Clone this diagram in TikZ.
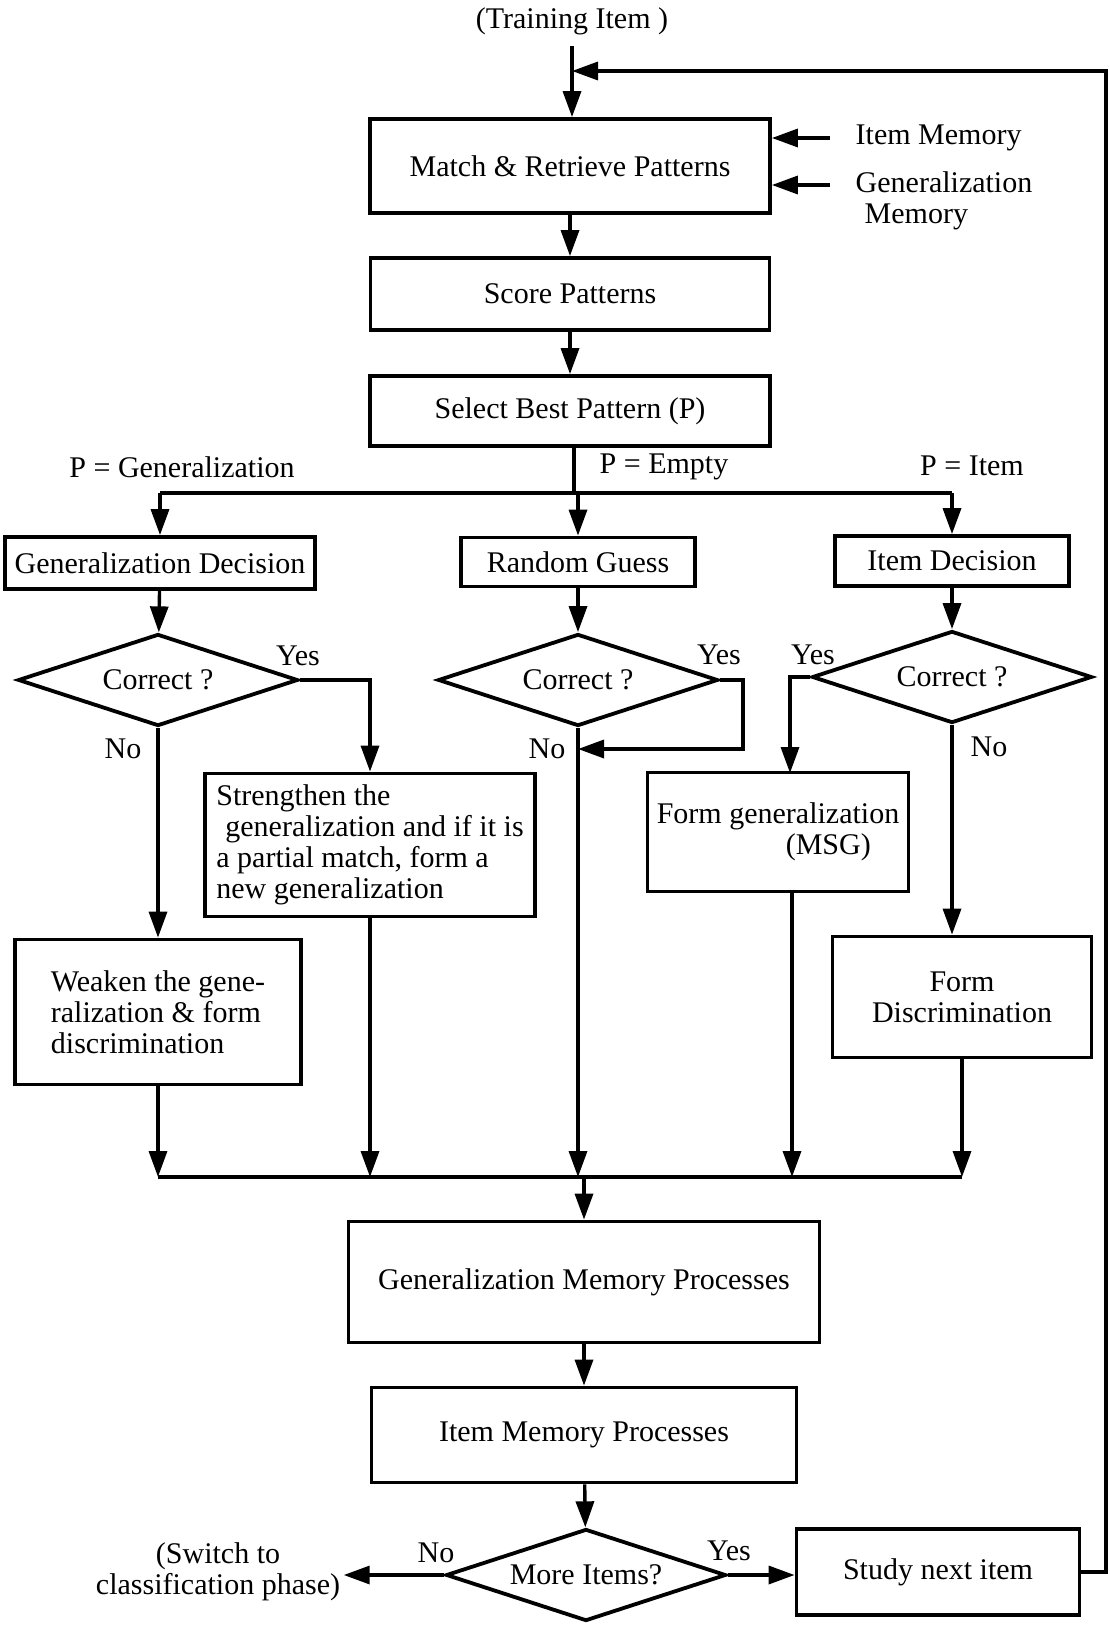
\documentclass[tikz,border=0pt]{standalone}
\usepackage{fontspec}
\setmainfont{Liberation Serif}
\usetikzlibrary{shapes.geometric,arrows.meta}

\begin{document}
\begin{tikzpicture}[x=1pt, y=-1pt, line width=3.4pt, >={Triangle[length=26pt,width=18pt]},
    every node/.style={font=\fontsize{30}{31}\selectfont, inner sep=2pt},
    box/.style={draw, line width=3.8pt, rectangle, align=center},
    test/.style={draw, line width=3.8pt, diamond, aspect=3, inner sep=0pt, minimum width=280, minimum height=92}]
\useasboundingbox (0,0) rectangle (1109,1627);
    % main column
    \node (train) at (572,21) {(Training Item )};
    \node[box, minimum width=400, minimum height=94] (match) at (570,166) {Match \& Retrieve Patterns};
    \node[box, minimum width=399, minimum height=72] (score) at (570,294) {Score Patterns};
    \node[box, minimum width=400, minimum height=70] (select) at (570,411) {Select Best Pattern (P)};
    \node[anchor=west] (itemmem) at (852,138) {Item Memory};
    \node[anchor=north west, align=left] (genmem) at (852,168) {Generalization\\\hspace*{0.3em}Memory};
    % three cases
    \node (pgen) at (182,467) {P = Generalization};
    \node (pemp) at (664,467) {P = Empty};
    \node (pitem) at (972,466) {P = Item};
    \node[box, minimum width=310, minimum height=52] (gendec) at (160,563) {Generalization Decision};
    \node[box, minimum width=234, minimum height=49] (random) at (578,562) {Random Guess};
    \node[box, minimum width=234, minimum height=50] (itemdec) at (952,561) {Item Decision};
    \node[test] (d1) at (158,680) {Correct ?};
    \node[test] (d2) at (578,680) {Correct ?};
    \node[test] (d3) at (952,677) {Correct ?};
    \node (y1) at (298,656) {Yes};
    \node (n1) at (123,749) {No};
    \node (y2) at (719,655) {Yes};
    \node (n2) at (547,749) {No};
    \node (y3) at (813,655) {Yes};
    \node (n3) at (989,747) {No};
    \node[box, minimum width=330, minimum height=143, align=left] (strength) at (370,845) {Strengthen the\\\hspace*{0.3em}generalization and if it is\\a partial match, form a\\new generalization};
    \node[box, minimum width=261, minimum height=119, align=left] (formgen) at (778,832) {Form generalization\\\hspace*{4.3em}(MSG)};
    \node[box, minimum width=286, minimum height=145, align=left] (weaken) at (158,1012) {Weaken the gene-\\ralization \& form\\discrimination};
    \node[box, minimum width=259, minimum height=121] (formdisc) at (962,997) {Form\\Discrimination};
    % memory processes
    \node[box, minimum width=471, minimum height=121] (gmp) at (584,1282) {Generalization Memory Processes};
    \node[box, minimum width=425, minimum height=95] (imp) at (584,1435) {Item Memory Processes};
    \node[test] (more) at (586,1575) {More Items?};
    \node[box, minimum width=283, minimum height=86] (study) at (938,1572) {Study next item};
    \node[align=center] (switch) at (218,1572) {(Switch to\\classification phase)};
    \node (n4) at (436,1553) {No};
    \node (y4) at (729,1551) {Yes};
    \coordinate (brn) at (574,493);
    \coordinate (mrg) at (584,1177);
    \coordinate (rgy) at (743,749);
    \coordinate (fb) at (1106,71);
    \coordinate (im) at (830,138);
    \coordinate (gm) at (830,185);
    \coordinate (fgt) at (790,773);
    \coordinate (fgb) at (792,892);
    % connectors
    \draw[->, shorten <=8pt] (train.south) -- (train.south |- match.north);
    \foreach \from/\to in {match/score, score/select, gendec/d1, random/d2, itemdec/d3, d1/weaken, gmp/imp, imp/more}
        \draw[->] (\from) -- (\to);
    \draw[->] (more.east) -- (more.east -| study.west);
    \draw[->] (more.west) -- (more.west -| switch.east);
    \draw[->] (im) -- (im -| match.east);
    \draw[->] (gm) -- (gm -| match.east);
    \draw (select.south -| brn) -- (brn);
    \draw (gendec.north |- brn) -- (itemdec.north |- brn);
    \foreach \to in {gendec, random, itemdec}
        \draw[->] (\to.north |- brn) -- (\to.north);
    \draw[->] (d1.east) -| (strength.north);
    \draw[->] (d3.west) -| (fgt);
    \draw[->] (d3.south) -- (formdisc.north -| d3.south);
    \draw[->] (d2.east) -| (rgy) -- (rgy -| d2.south);
    \foreach \from in {weaken, strength, d2, fgb, formdisc}
        \draw[->] (\from.south) -- (\from.south |- mrg);
    \draw (weaken.south |- mrg) -- (formdisc.south |- mrg);
    \draw[->] (mrg) -- (gmp);
    \draw[->] (study.east) -| (fb) -- (fb -| train.south);
\end{tikzpicture}
\end{document}
